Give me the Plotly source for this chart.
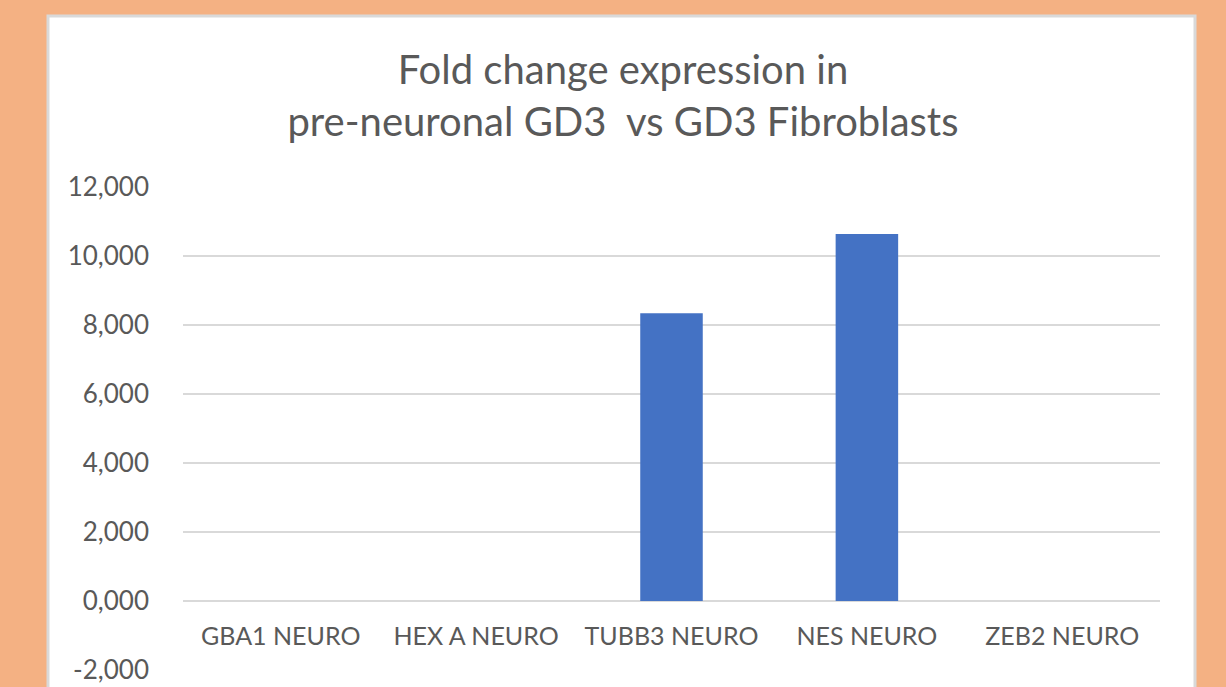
import plotly.graph_objects as go

categories = ["GBA1 NEURO", "HEX A NEURO", "TUBB3 NEURO", "NES NEURO", "ZEB2 NEURO"]
fold_change = [0.0, 0.0, 8.34, 10.64, 0.0]
y_ticks = [-2, 0, 2, 4, 6, 8, 10, 12]
y_tick_labels = ["-2,000", "0,000", "2,000", "4,000", "6,000", "8,000", "10,000", "12,000"]

W, H = 1226, 687
L, R, T, B = 183, 66, 187, 17
pw, ph = W - L - R, H - T - B

def px_x(p):
    return (p - L) / pw

def px_y(p):
    return (H - B - p) / ph

fig = go.Figure()
fig.add_trace(go.Bar(
    x=categories, y=fold_change,
    marker=dict(color="#4472C4", line=dict(width=0)),
    width=0.32,
))

fig.add_shape(type="rect", xref="paper", yref="paper",
              x0=px_x(48), x1=px_x(1195), y0=px_y(720), y1=px_y(16),
              fillcolor="white", line=dict(color="#D9D9D9", width=3), layer="below")

fig.update_layout(
    width=W, height=H,
    margin=dict(l=L, r=R, t=T, b=B),
    paper_bgcolor="#F4B183",
    plot_bgcolor="rgba(0,0,0,0)",
    separators=",.",
    showlegend=False,
    font=dict(family="Lato", color="#595959"),
    title=dict(text="Fold change expression in<br>pre-neuronal GD3  vs GD3 Fibroblasts",
               x=623 / W, xanchor="center", xref="container",
               y=1 - 84 / H, yanchor="middle", yref="container",
               font=dict(size=40, color="#595959", family="Lato")),
    xaxis=dict(anchor="free", position=2 / 14, showgrid=False, showline=False,
               ticks="", tickfont=dict(size=25, color="#595959"),
               ticklabelstandoff=18, automargin=False),
    yaxis=dict(range=[-2, 12], tickvals=y_ticks, ticktext=y_tick_labels,
               showgrid=True, gridcolor="#D9D9D9", gridwidth=2,
               zeroline=True, zerolinecolor="#D9D9D9", zerolinewidth=2,
               showline=False, ticks="", tickfont=dict(size=26, color="#595959"),
               ticklabelstandoff=33, automargin=False),
)

fig.write_html("out.html", config={"displayModeBar": False},
               post_script="document.body.style.margin='0';document.body.style.overflow='hidden';")
